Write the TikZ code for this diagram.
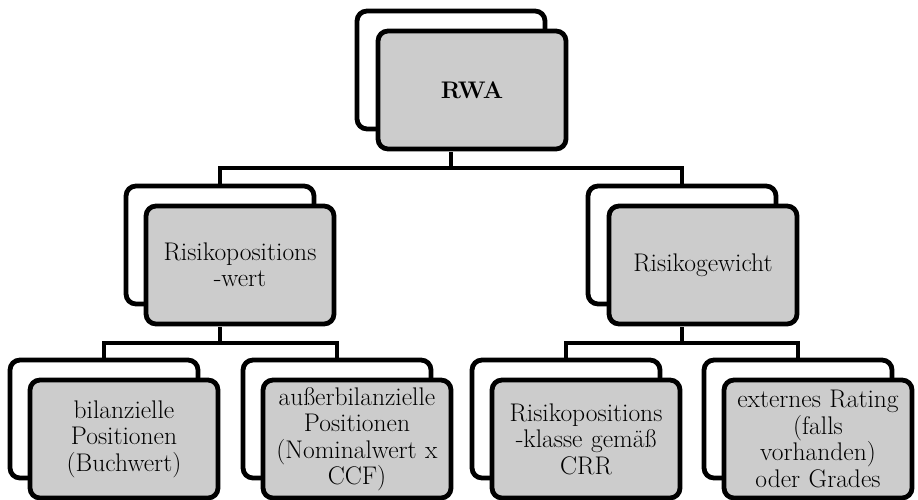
\documentclass[tikz,border=0pt]{standalone}
\usepackage{fontspec}
\definecolor{boxgray}{HTML}{CCCCCC}
\begin{document}
\begin{tikzpicture}[x=1pt,y=-1pt,
  backbox/.style={draw=black, line width=4.8pt, rounded corners=10pt, fill=white,
    minimum width=188pt, minimum height=118pt, inner sep=0pt},
  frontbox/.style={backbox, fill=boxgray, align=center, text width=186pt,
    font=\fontsize{25.5}{26.5}\selectfont},
  conn/.style={draw=black, line width=4.4pt}]
\useasboundingbox (0,0) rectangle (918,500);
% coordinates of buses
\coordinate (bus1) at (0,168);
\coordinate (bus2) at (0,343);
% back boxes
\node[backbox] (rwaB) at (451,70) {};
\node[backbox] (rpwB) at (220,245) {};
\node[backbox] (rgB)  at (682,245) {};
\node[backbox] (bpB)  at (104,419) {};
\node[backbox] (abB)  at (337,419) {};
\node[backbox] (rkB)  at (566,419) {};
\node[backbox] (erB)  at (798,419) {};
% connectors
\draw[conn] (rwaB.center |- 0,152) -- (rwaB.center |- bus1);
\draw[conn] (rpwB.north) -- (rpwB.north |- bus1) -- (rgB.north |- bus1) -- (rgB.north);
\draw[conn] (rpwB.center |- 0,327) -- (rpwB.center |- bus2);
\draw[conn] (bpB.north) -- (bpB.north |- bus2) -- (abB.north |- bus2) -- (abB.north);
\draw[conn] (rgB.center |- 0,327) -- (rgB.center |- bus2);
\draw[conn] (rkB.north) -- (rkB.north |- bus2) -- (erB.north |- bus2) -- (erB.north);
% front boxes
\node[frontbox, font=\fontsize{24}{26}\selectfont\bfseries] (rwaF) at (472,90) {RWA};
\node[frontbox] (rpwF) at (240,265) {Risikopositions\\-wert};
\node[frontbox] (rgF)  at (703,265) {Risikogewicht};
\node[frontbox] (bpF)  at (124,439) {bilanzielle\\Positionen\\(Buchwert)};
\node[frontbox] (abF)  at (357,439) {außerbilanzielle\\Positionen\\(Nominalwert x\\CCF)};
\node[frontbox] (rkF)  at (586,439) {Risikopositions\\-klasse gemäß\\CRR};
\node[frontbox] (erF)  at (818,439) {externes Rating\\(falls\\vorhanden)\\oder Grades};
\end{tikzpicture}
\end{document}
